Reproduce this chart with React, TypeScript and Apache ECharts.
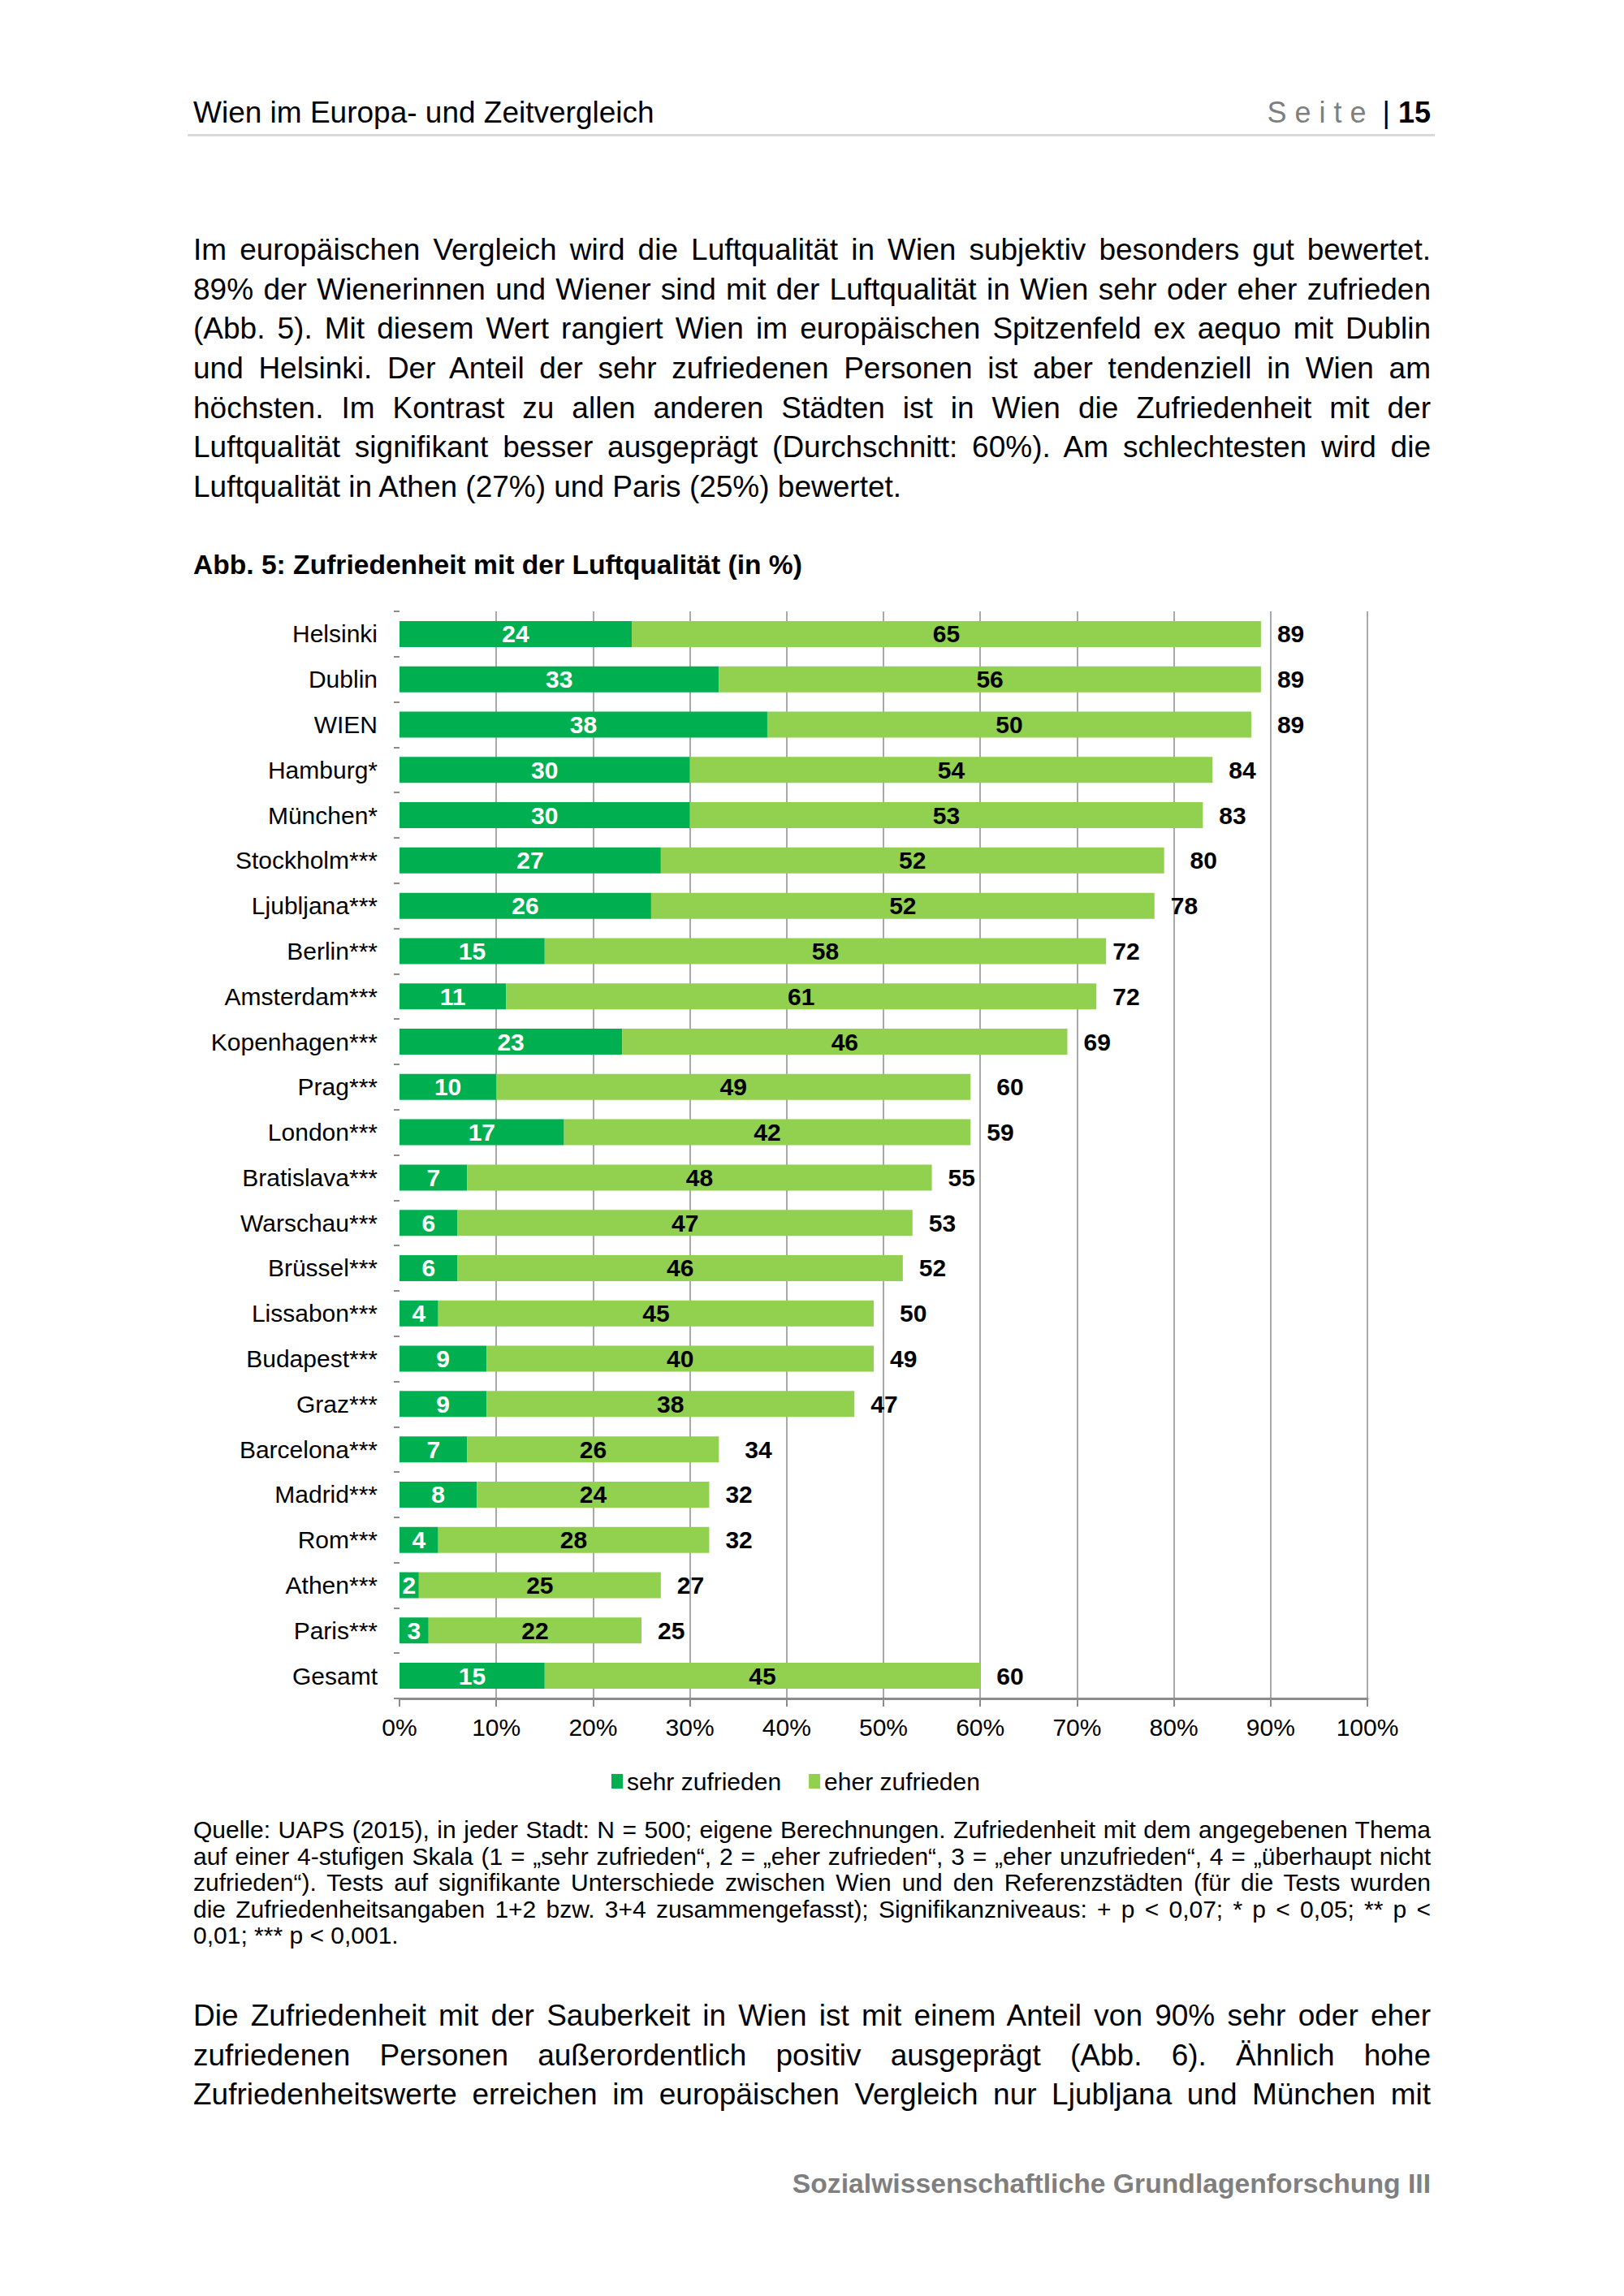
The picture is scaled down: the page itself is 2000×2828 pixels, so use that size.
import React, { useEffect, useRef } from "react";
import * as echarts from "echarts";

const FONT = "'Liberation Sans', Arial, Helvetica, sans-serif";

const categories = [
  "Helsinki", "Dublin", "WIEN", "Hamburg*", "München*", "Stockholm***", "Ljubljana***",
  "Berlin***", "Amsterdam***", "Kopenhagen***", "Prag***", "London***", "Bratislava***",
  "Warschau***", "Brüssel***", "Lissabon***", "Budapest***", "Graz***", "Barcelona***",
  "Madrid***", "Rom***", "Athen***", "Paris***", "Gesamt",
];
const sehrZufrieden = [24, 33, 38, 30, 30, 27, 26, 15, 11, 23, 10, 17, 7, 6, 6, 4, 9, 9, 7, 8, 4, 2, 3, 15];
const eherZufrieden = [65, 56, 50, 54, 53, 52, 52, 58, 61, 46, 49, 42, 48, 47, 46, 45, 40, 38, 26, 24, 28, 25, 22, 45];
const gesamtWerte = [89, 89, 89, 84, 83, 80, 78, 72, 72, 69, 60, 59, 55, 53, 52, 50, 49, 47, 34, 32, 32, 27, 25, 60];
const seriesNames = ["sehr zufrieden", "eher zufrieden"];

const paragraph1 = [
  "Im europäischen Vergleich wird die Luftqualität in Wien subjektiv besonders gut bewertet.",
  "89% der Wienerinnen und Wiener sind mit der Luftqualität in Wien sehr oder eher zufrieden",
  "(Abb. 5). Mit diesem Wert rangiert Wien im europäischen Spitzenfeld ex aequo mit Dublin",
  "und Helsinki. Der Anteil der sehr zufriedenen Personen ist aber tendenziell in Wien am",
  "höchsten. Im Kontrast zu allen anderen Städten ist in Wien die Zufriedenheit mit der",
  "Luftqualität signifikant besser ausgeprägt (Durchschnitt: 60%). Am schlechtesten wird die",
  "Luftqualität in Athen (27%) und Paris (25%) bewertet.",
];
const sourceLines = [
  "Quelle: UAPS (2015), in jeder Stadt: N = 500; eigene Berechnungen. Zufriedenheit mit dem angegebenen Thema",
  "auf einer 4-stufigen Skala (1 = „sehr zufrieden“, 2 = „eher zufrieden“, 3 = „eher unzufrieden“, 4 = „überhaupt nicht",
  "zufrieden“). Tests auf signifikante Unterschiede zwischen Wien und den Referenzstädten (für die Tests wurden",
  "die Zufriedenheitsangaben 1+2 bzw. 3+4 zusammengefasst); Signifikanzniveaus: + p < 0,07; * p < 0,05; ** p <",
  "0,01; *** p < 0,001.",
];
const paragraph2 = [
  "Die Zufriedenheit mit der Sauberkeit in Wien ist mit einem Anteil von 90% sehr oder eher",
  "zufriedenen Personen außerordentlich positiv ausgeprägt (Abb. 6). Ähnlich hohe",
  "Zufriedenheitswerte erreichen im europäischen Vergleich nur Ljubljana und München mit",
];

function Lines(props: {
  lines: string[];
  top: number;
  fontSize: number;
  lineHeight: number;
  justifyLast: boolean;
}) {
  const { lines, top, fontSize, lineHeight, justifyLast } = props;
  return (
    <div style={{ position: "absolute", left: 238, top, width: 1524, fontSize, lineHeight: lineHeight + "px" }}>
      {lines.map((l, i) => {
        const last = i === lines.length - 1 && !justifyLast;
        return (
          <div
            key={i}
            style={{
              height: lineHeight,
              textAlign: last ? "left" : "justify",
              textAlignLast: last ? "left" : "justify",
            } as React.CSSProperties}
          >
            {l}
          </div>
        );
      })}
    </div>
  );
}

export default function App() {
  const ref = useRef<HTMLDivElement>(null);
  useEffect(() => {
    const chart = echarts.init(ref.current!, null, { renderer: "svg" });
    const gridColor = "#8c8c8c";
    chart.setOption({
      animation: false,
      textStyle: { fontFamily: FONT },
      grid: { left: 492, top: 753, width: 1192, height: 1339, containLabel: false },
      legend: {
        data: seriesNames,
        left: 748,
        top: 2174,
        icon: "rect",
        itemWidth: 14,
        itemHeight: 18,
        itemGap: 34,
        textStyle: { fontSize: 30, color: "#000", fontFamily: FONT },
      },
      xAxis: {
        type: "value",
        min: 0,
        max: 100,
        interval: 10,
        axisLine: { show: true, lineStyle: { color: gridColor, width: 3 } },
        axisTick: { show: true, length: 10, lineStyle: { color: gridColor, width: 2 } },
        axisLabel: { formatter: "{value}%", fontSize: 30, color: "#000", margin: 20, fontFamily: FONT },
        splitLine: { show: true, showMinLine: false, lineStyle: { color: gridColor, width: 1.5 } },
      },
      yAxis: {
        type: "category",
        data: categories,
        inverse: true,
        axisLine: { show: false },
        axisTick: { show: true, length: 7, lineStyle: { color: gridColor, width: 2 } },
        axisLabel: { fontSize: 30, color: "#000", margin: 27, fontFamily: FONT },
        splitLine: { show: false },
      },
      series: [
        {
          name: seriesNames[0],
          type: "bar",
          stack: "total",
          data: sehrZufrieden,
          barWidth: 32,
          itemStyle: { color: "#00B050" },
          label: { show: true, position: "inside", color: "#fff", fontSize: 30, fontWeight: "bold", fontFamily: FONT },
        },
        {
          name: seriesNames[1],
          type: "bar",
          stack: "total",
          data: eherZufrieden,
          barWidth: 32,
          itemStyle: { color: "#92D050" },
          label: { show: true, position: "inside", color: "#000", fontSize: 30, fontWeight: "bold", fontFamily: FONT },
        },
        {
          name: "Gesamt",
          type: "bar",
          data: gesamtWerte,
          barWidth: 32,
          barGap: "-100%",
          silent: true,
          z: 1,
          itemStyle: { color: "rgba(0,0,0,0)" },
          label: {
            show: true,
            position: "right",
            distance: 20,
            color: "#000",
            fontSize: 30,
            fontWeight: "bold",
            fontFamily: FONT,
          },
        },
      ],
    });
    return () => chart.dispose();
  }, []);

  return (
    <div
      style={{
        position: "absolute",
        left: 0,
        top: 0,
        width: 2000,
        height: 2828,
        background: "#fff",
        fontFamily: FONT,
        color: "#000",
        overflow: "hidden",
      }}
    >
      <div ref={ref} style={{ position: "absolute", left: 0, top: 0, width: 2000, height: 2828 }} />

      {/* Header */}
      <div style={{ position: "absolute", left: 238, top: 117, fontSize: 37, lineHeight: "44px", whiteSpace: "nowrap" }}>
        Wien im Europa- und Zeitvergleich
      </div>
      <div
        style={{
          position: "absolute",
          right: 2000 - 1762,
          top: 117,
          fontSize: 36,
          lineHeight: "44px",
          whiteSpace: "nowrap",
        }}
      >
        <span style={{ color: "#7f7f7f", letterSpacing: "10px" }}>Seite</span>
        <span> | </span>
        <span style={{ fontWeight: "bold" }}>15</span>
      </div>
      <div style={{ position: "absolute", left: 231, top: 165, width: 1536, height: 3, background: "#d9d9d9" }} />

      <Lines lines={paragraph1} top={284} fontSize={37} lineHeight={48.7} justifyLast={false} />

      <div
        style={{
          position: "absolute",
          left: 238,
          top: 676,
          fontSize: 33.6,
          lineHeight: "40px",
          fontWeight: "bold",
          whiteSpace: "nowrap",
        }}
      >
        Abb. 5: Zufriedenheit mit der Luftqualität (in %)
      </div>

      <Lines lines={sourceLines} top={2238} fontSize={30} lineHeight={32.5} justifyLast={false} />

      <Lines lines={paragraph2} top={2459} fontSize={37} lineHeight={48.7} justifyLast={true} />

      <div
        style={{
          position: "absolute",
          right: 2000 - 1762,
          top: 2669,
          fontSize: 33.7,
          lineHeight: "40px",
          fontWeight: "bold",
          color: "#7f7f7f",
          whiteSpace: "nowrap",
        }}
      >
        Sozialwissenschaftliche Grundlagenforschung III
      </div>
    </div>
  );
}
